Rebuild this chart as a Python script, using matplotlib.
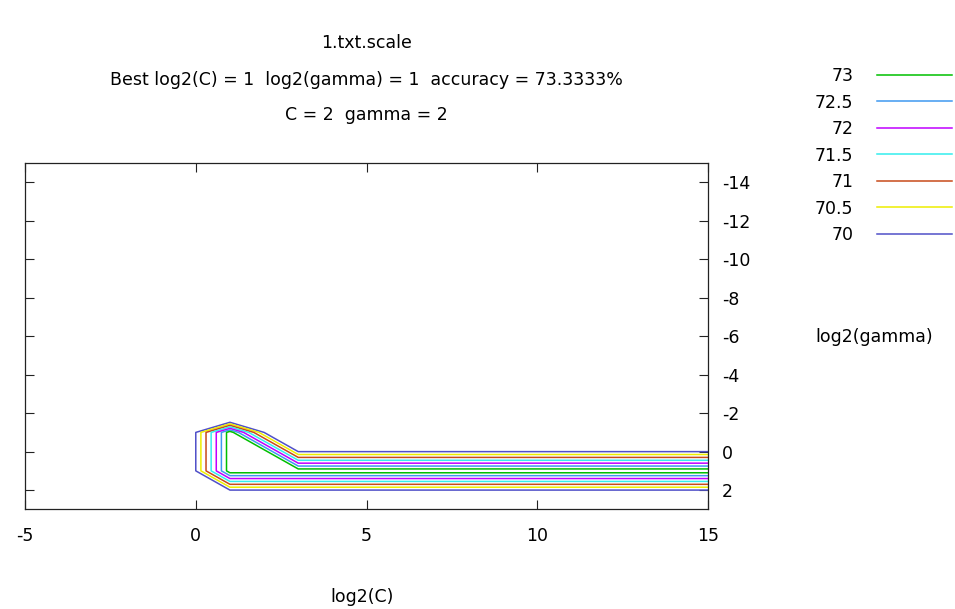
import matplotlib
matplotlib.use("Agg")
import matplotlib.pyplot as plt
import numpy as np

# grid search result (log2 C across, log2 gamma down), accuracy in %
log2c = [-5, -3, -1, 1, 3, 5, 7, 9, 11, 13, 15]
log2g = [3, 1, -1, -3, -5, -7, -9, -11, -13, -15]

acc_g3 = [66.6667] * 11
acc_g1 = [66.6667, 66.6667, 66.6667, 73.3333, 73.3333, 73.3333, 73.3333, 73.3333, 73.3333, 73.3333, 73.3333]
acc_gm1 = [66.6667, 66.6667, 66.6667, 73.3333, 66.6667, 66.6667, 66.6667, 66.6667, 66.6667, 66.6667, 66.6667]
acc_gm3 = [66.6667, 66.6667, 66.6667, 60.6667, 66.6667, 66.6667, 66.6667, 66.6667, 66.6667, 66.6667, 66.6667]
acc_gm5 = [66.6667] * 11
acc_gm7 = [66.6667] * 11
acc_gm9 = [66.6667] * 11
acc_gm11 = [66.6667] * 11
acc_gm13 = [66.6667] * 11
acc_gm15 = [66.6667] * 11

levels = [70, 70.5, 71, 71.5, 72, 72.5, 73]
level_colors = ["#5050c8", "#eeee00", "#c84a1a", "#33eeee", "#c000ff", "#3f98f0", "#00c000"]

x_ticks = [-5, 0, 5, 10, 15]
y_ticks = [-14, -12, -10, -8, -6, -4, -2, 0, 2]

best_c, best_g, best_rate = 1, 1, 73.3333

plt.rcParams["font.family"] = ["DejaVu Sans"]
plt.rcParams["axes.unicode_minus"] = False
FS = 12.5
INK = "#222222"

Z = np.array([acc_g3, acc_g1, acc_gm1, acc_gm3, acc_gm5,
              acc_gm7, acc_gm9, acc_gm11, acc_gm13, acc_gm15])
X, Y = np.meshgrid(log2c, log2g)

fig = plt.figure(figsize=(9.55, 6.09), dpi=100)
ax = fig.add_axes([0.0262, 0.1637, 0.7152, 0.5682])

cs = ax.contour(X, Y, Z, levels=levels, colors=level_colors, linewidths=1.1)

ax.set_xlim(-5, 15)
ax.set_ylim(3, -15)
ax.set_xticks(x_ticks)
ax.set_yticks(y_ticks)
ax.tick_params(direction="in", length=6.5, width=0.8, color=INK,
               top=True, right=True, left=True, bottom=True,
               labelleft=False, labelright=True, labelsize=FS, pad=10)
ax.tick_params(axis="x", pad=13)
for s in ax.spines.values():
    s.set_linewidth(0.9)
    s.set_color(INK)

ax.set_xlabel("log2(C)", fontsize=FS, va="center")
ax.xaxis.set_label_coords(0.493, -0.253)
ax.set_ylabel("log2(gamma)", fontsize=FS, rotation=0, ha="center", va="center")
ax.yaxis.set_label_coords(1.243, 0.498)

cx = 0.0262 + 0.7152 / 2
fig.text(cx, 1 - 43 / 609, "1.txt.scale", fontsize=FS, ha="center", va="center")
fig.text(cx, 1 - 80 / 609,
         f"Best log2(C) = {best_c}  log2(gamma) = {best_g}  accuracy = {best_rate}%",
         fontsize=FS, ha="center", va="center")
fig.text(cx, 1 - 115 / 609, f"C = {2 ** best_c}  gamma = {2 ** best_g}",
         fontsize=FS, ha="center", va="center")

# gnuplot style key: highest level first, label left of the line
handles = [plt.Line2D([], [], color=c, linewidth=1.1) for c in level_colors][::-1]
labels = [f"{lv:g}" for lv in levels][::-1]
fig.legend(handles, labels, loc="upper right", bbox_to_anchor=(0.9965, 1 - 67 / 609),
           frameon=False, markerfirst=False, fontsize=FS, handlelength=4.3,
           handletextpad=1.35, labelspacing=0.49, borderpad=0, borderaxespad=0)

fig.savefig("out.png", dpi=100)
